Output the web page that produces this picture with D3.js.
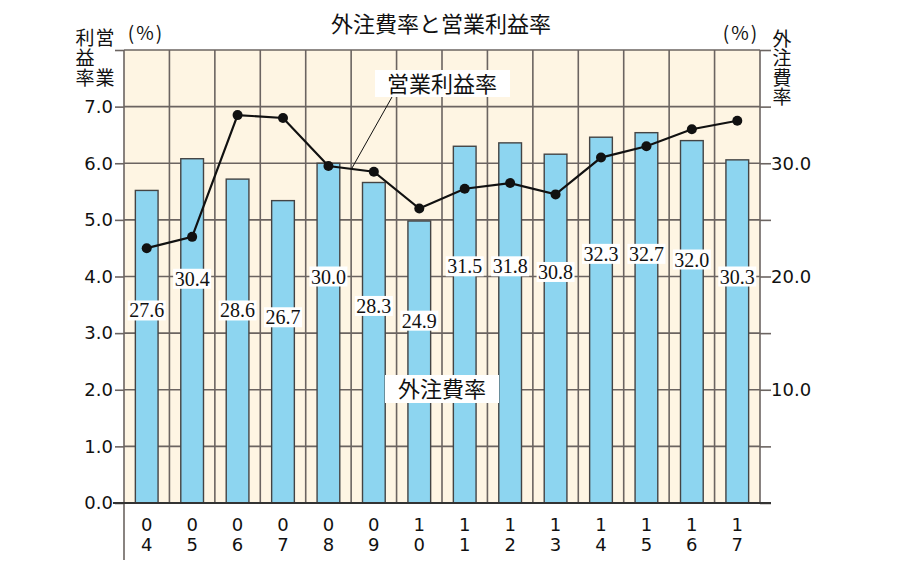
<!DOCTYPE html>
<html lang="ja">
<head>
<meta charset="UTF-8">
<title>外注費率と営業利益率</title>
<style>
  body { margin: 0; background: #fff; }
  text { font-family: "DejaVu Sans", sans-serif; fill: #111; }
  .jp { font-family: "Noto Sans CJK JP", sans-serif; }
  .num { font-family: "Liberation Serif", serif; }
  .vert { writing-mode: vertical-rl; }
  .upright { writing-mode: vertical-rl; text-orientation: upright; }
</style>
</head>
<body>
<script src="https://cdn.jsdelivr.net/npm/d3@7/dist/d3.min.js"></script>
<script>
  // データ
  var years = ["04", "05", "06", "07", "08", "09", "10", "11", "12", "13", "14", "15", "16", "17"];
  var outsourceRate = [27.6, 30.4, 28.6, 26.7, 30.0, 28.3, 24.9, 31.5, 31.8, 30.8, 32.3, 32.7, 32.0, 30.3];  // 外注費率 (右軸)
  var profitRate = [4.5, 4.7, 6.85, 6.8, 5.95, 5.85, 5.2, 5.55, 5.65, 5.45, 6.1, 6.3, 6.6, 6.75];          // 営業利益率 (左軸)
  var labelAt = [17.0, 19.8, 17.0, 16.4, 20.0, 17.4, 16.1, 20.9, 20.9, 20.4, 22.0, 22.0, 21.5, 20.0];      // 数値ラベルの高さ (右軸の単位)
  var leftTicks = [0, 1, 2, 3, 4, 5, 6, 7, 8];
  var rightTicks = [0, 5, 10, 15, 20, 25, 30, 35, 40];
  var rightLabeled = [10, 20, 30];

  var width = 901, height = 565;
  var pL = 124, pR = 760, pT = 50, pB = 503;   // 描画領域

  var svg = d3.select("body").append("svg")
    .attr("width", width)
    .attr("height", height);

  var x = d3.scaleBand().domain(years).range([pL, pR]).paddingInner(0.5).paddingOuter(0.25);
  var yL = d3.scaleLinear().domain([0, 8]).range([pB, pT]);
  var yR = d3.scaleLinear().domain([0, 40]).range([pB, pT]);
  var step = x.step();
  var cx = function (i) { return x(years[i]) + x.bandwidth() / 2; };

  // 背景
  svg.append("rect")
    .attr("x", pL).attr("y", pT)
    .attr("width", pR - pL).attr("height", pB - pT)
    .attr("fill", "#fef5e3");

  // グリッド
  var grid = svg.append("g").attr("stroke", "#6b6461").attr("stroke-width", 1.6);
  grid.selectAll("line.h").data(leftTicks.slice(1)).enter().append("line")
    .attr("x1", pL).attr("x2", pR)
    .attr("y1", function (d) { return yL(d); }).attr("y2", function (d) { return yL(d); });
  grid.selectAll("line.v").data(years.slice(0, -1)).enter().append("line")
    .attr("x1", function (d, i) { return cx(i) + step / 2; })
    .attr("x2", function (d, i) { return cx(i) + step / 2; })
    .attr("y1", pT).attr("y2", pB);
  grid.append("line").attr("x1", pR).attr("x2", pR).attr("y1", pT).attr("y2", pB);

  // 棒 (外注費率)
  svg.append("g").selectAll("rect").data(outsourceRate).enter().append("rect")
    .attr("x", function (d, i) { return x(years[i]); })
    .attr("width", x.bandwidth())
    .attr("y", function (d) { return yR(d); })
    .attr("height", function (d) { return pB - yR(d); })
    .attr("fill", "#8dd5f0")
    .attr("stroke", "#444")
    .attr("stroke-width", 1.4);

  // 左軸
  var axisL = svg.append("g")
    .attr("transform", "translate(" + pL + ",0)")
    .call(d3.axisLeft(yL).tickValues(leftTicks).tickSize(9).tickPadding(2)
      .tickFormat(function (d) { return d === 8 ? "" : d3.format(".1f")(d); }));
  axisL.select(".domain").remove();
  axisL.selectAll(".tick line").attr("stroke", "#6b6461").attr("stroke-width", 1.6);
  axisL.selectAll(".tick text").attr("font-size", 18).attr("font-family", "DejaVu Sans").attr("fill", "#111");

  // 右軸
  var axisR = svg.append("g")
    .attr("transform", "translate(" + pR + ",0)")
    .call(d3.axisRight(yR).tickValues(rightTicks).tickSize(11).tickPadding(0)
      .tickFormat(function (d) { return rightLabeled.indexOf(d) >= 0 ? d3.format(".1f")(d) : ""; }));
  axisR.select(".domain").remove();
  axisR.selectAll(".tick line").attr("stroke", "#6b6461").attr("stroke-width", 1.6);
  axisR.selectAll(".tick text").attr("font-size", 18).attr("font-family", "DejaVu Sans").attr("fill", "#111");

  // 左枠とゼロ線
  svg.append("line").attr("x1", pL).attr("x2", pL).attr("y1", pT).attr("y2", 560)
    .attr("stroke", "#6b6461").attr("stroke-width", 1.6);
  svg.append("line").attr("x1", pL - 11).attr("x2", pR + 11).attr("y1", yL(0)).attr("y2", yL(0))
    .attr("stroke", "#333").attr("stroke-width", 2.2);

  // 数値ラベル
  var labels = svg.append("g").selectAll("g").data(outsourceRate).enter().append("g")
    .attr("transform", function (d, i) {
      return "translate(" + cx(i) + "," + yR(labelAt[i]) + ")";
    });
  labels.append("rect")
    .attr("x", -19).attr("y", -10).attr("width", 38).attr("height", 20)
    .attr("fill", "#fff");
  labels.append("text")
    .attr("class", "num")
    .attr("text-anchor", "middle")
    .attr("dy", "0.35em")
    .attr("font-size", 20)
    .text(function (d) { return d3.format(".1f")(d); });

  // 折れ線 (営業利益率)
  var line = d3.line()
    .x(function (d, i) { return cx(i); })
    .y(function (d) { return yL(d); });
  svg.append("path").datum(profitRate)
    .attr("d", line)
    .attr("fill", "none")
    .attr("stroke", "#111")
    .attr("stroke-width", 2.2);
  svg.append("g").selectAll("circle").data(profitRate).enter().append("circle")
    .attr("cx", function (d, i) { return cx(i); })
    .attr("cy", function (d) { return yL(d); })
    .attr("r", 5)
    .attr("fill", "#111");

  // X軸ラベル (縦書き2桁)
  svg.append("g").selectAll("text").data(years).enter().append("text")
    .attr("class", "upright")
    .attr("x", function (d, i) { return cx(i); })
    .attr("y", 514)
    .attr("font-size", 18)
    .attr("letter-spacing", -1)
    .text(function (d) { return d; });

  // タイトル
  svg.append("text").attr("class", "jp")
    .attr("x", 441).attr("y", 32)
    .attr("text-anchor", "middle")
    .attr("font-size", 22)
    .text("外注費率と営業利益率");

  // 左軸タイトル (縦書き2列)
  svg.append("text").attr("class", "jp vert").attr("x", 105).attr("y", 28)
    .attr("font-size", 19).attr("letter-spacing", 1).text("営　業");
  svg.append("text").attr("class", "jp vert").attr("x", 85).attr("y", 28)
    .attr("font-size", 19).attr("letter-spacing", 1).text("利益率");
  svg.append("text").attr("class", "jp").attr("x", 146).attr("y", 40)
    .attr("text-anchor", "middle").attr("font-size", 19).attr("letter-spacing", 2).text("(%)");

  // 右軸タイトル
  svg.append("text").attr("class", "jp").attr("x", 741).attr("y", 40)
    .attr("text-anchor", "middle").attr("font-size", 19).attr("letter-spacing", 2).text("(%)");
  svg.append("text").attr("class", "jp vert").attr("x", 782).attr("y", 29)
    .attr("font-size", 19).attr("letter-spacing", 0.5).text("外注費率");

  // 凡例ラベル
  svg.append("line").attr("x1", 392).attr("y1", 97).attr("x2", 352).attr("y2", 168)
    .attr("stroke", "#111").attr("stroke-width", 1);
  svg.append("rect").attr("x", 375).attr("y", 70).attr("width", 135).attr("height", 27).attr("fill", "#fff");
  svg.append("text").attr("class", "jp").attr("x", 442).attr("y", 92)
    .attr("text-anchor", "middle").attr("font-size", 22).text("営業利益率");

  svg.append("rect").attr("x", 385).attr("y", 375).attr("width", 114).attr("height", 28).attr("fill", "#fff");
  svg.append("text").attr("class", "jp").attr("x", 442).attr("y", 397)
    .attr("text-anchor", "middle").attr("font-size", 22).text("外注費率");
</script>
</body>
</html>
